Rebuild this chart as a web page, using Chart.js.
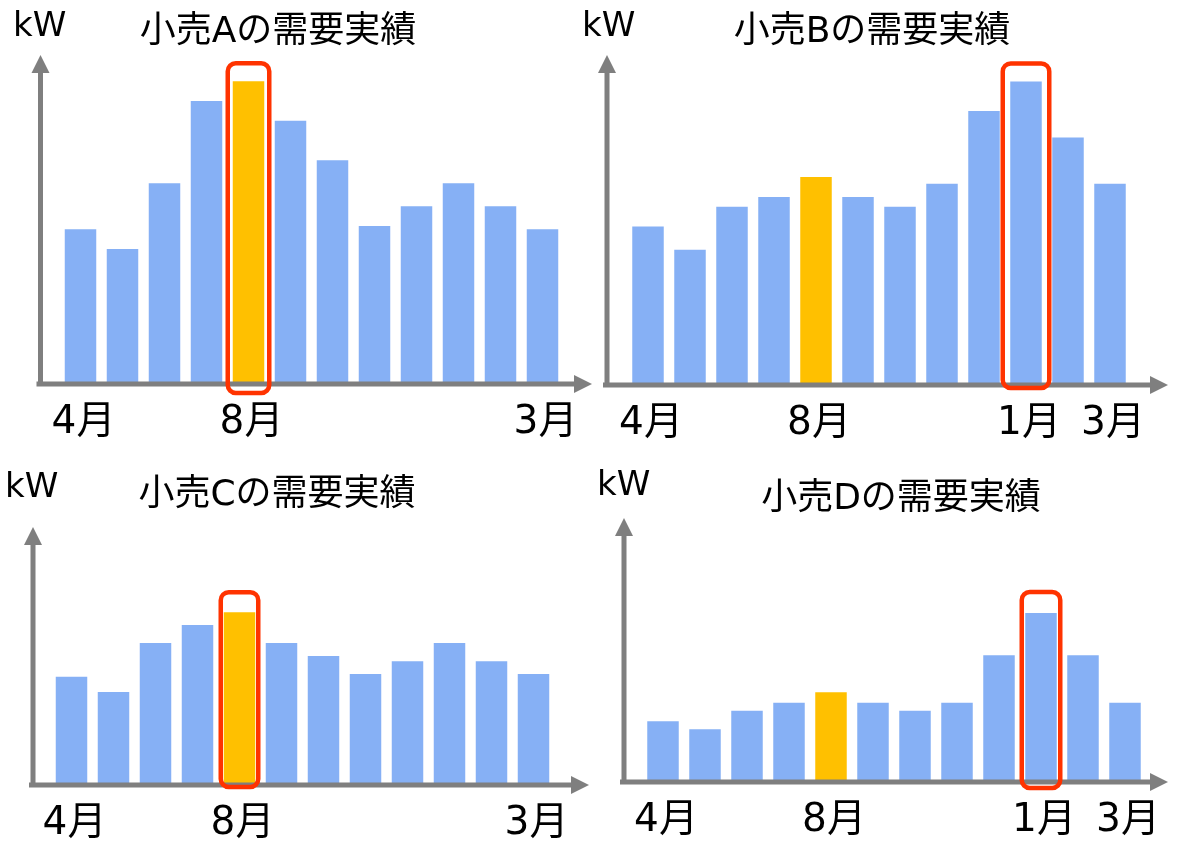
<!DOCTYPE html>
<html lang="ja">
<head>
<meta charset="utf-8">
<title>小売の需要実績</title>
<script src="https://cdn.jsdelivr.net/npm/chart.js@4"></script>
<style>
  body { margin: 0; background: #fff; }
  #wrap { position: relative; width: 1186px; height: 841px; }
  #wrap canvas { position: absolute; left: 0; top: 0; }
</style>
</head>
<body>
<div id="wrap">
  <canvas id="chartA" width="1186" height="841"></canvas>
  <canvas id="chartB" width="1186" height="841"></canvas>
  <canvas id="chartC" width="1186" height="841"></canvas>
  <canvas id="chartD" width="1186" height="841"></canvas>
</div>
<script>
// months of the fiscal year (Apr - Mar)
const months = ['4月', '5月', '6月', '7月', '8月', '9月', '10月', '11月', '12月', '1月', '2月', '3月'];
const ticksAC = ['4月', '8月', '3月'];
const ticksBD = ['4月', '8月', '1月', '3月'];

// demand, relative to the top of the kW arrow (=100)
const demandA = [47, 41, 61, 86, 92, 80, 68, 48, 54, 61, 54, 47];
const demandB = [48, 41, 54, 57, 63, 57, 54, 61, 83, 92, 75, 61];
const demandC = [42, 36, 55, 62, 67, 55, 50, 43, 48, 55, 48, 43];
const demandD = [23, 20, 27, 30, 34, 30, 27, 30, 48, 64, 48, 30];

const summerMonth = '8月';
const peakA = '8月';
const peakB = '1月';
const peakC = '8月';
const peakD = '1月';

const BLUE = '#86B0F5';
const YELLOW = '#FFC000';
const RED = '#FF3300';
const AXIS = '#7F7F7F';
const FONT = '"DejaVu Sans", "Noto Sans CJK JP", sans-serif';

Chart.defaults.font.family = FONT;

const panelDeco = {
  id: 'panelDeco',
  afterDatasetsDraw(chart, args, o) {
    const ctx = chart.ctx;
    const y = chart.scales.y;
    const base = y.getPixelForValue(0);
    const top = y.getPixelForValue(100);
    ctx.save();
    // axes with arrow heads
    ctx.strokeStyle = AXIS;
    ctx.fillStyle = AXIS;
    ctx.lineWidth = 5;
    ctx.beginPath();
    ctx.moveTo(o.axisX, base + 2.5);
    ctx.lineTo(o.axisX, top + 16);
    ctx.moveTo(o.axisX - 4, base);
    ctx.lineTo(o.tipX - 16, base);
    ctx.stroke();
    ctx.beginPath();
    ctx.moveTo(o.axisX, top);
    ctx.lineTo(o.axisX - 9, top + 18);
    ctx.lineTo(o.axisX + 9, top + 18);
    ctx.closePath();
    ctx.fill();
    ctx.beginPath();
    ctx.moveTo(o.tipX, base);
    ctx.lineTo(o.tipX - 18, base - 9);
    ctx.lineTo(o.tipX - 18, base + 9);
    ctx.closePath();
    ctx.fill();

    // red frame round the peak month
    const bar = chart.getDatasetMeta(0).data[months.indexOf(o.peak)];
    const half = bar.width / 2 + o.padX;
    const y0 = bar.y - o.padTop;
    ctx.strokeStyle = RED;
    ctx.lineWidth = 4.5;
    ctx.beginPath();
    ctx.roundRect(bar.x - half, y0, half * 2, base + o.padBottom - y0, 8);
    ctx.stroke();

    // kW and title
    ctx.fillStyle = '#000';
    ctx.font = '34px ' + FONT;
    ctx.textAlign = 'left';
    ctx.textBaseline = 'alphabetic';
    ctx.fillText('kW', o.kwX, o.kwY);
    ctx.font = '36px ' + FONT;
    ctx.textAlign = 'center';
    ctx.textBaseline = 'middle';
    ctx.fillText(o.title, o.titleX, o.titleY);
    ctx.restore();
  }
};

function makePanel(id, values, shownTicks, deco, area) {
  const ctx = document.getElementById(id).getContext('2d');
  const chart = new Chart(ctx, {
    type: 'bar',
    data: {
      labels: months,
      datasets: [{
        data: values,
        backgroundColor: months.map(m => m === summerMonth ? YELLOW : BLUE),
        barPercentage: 0.75,
        categoryPercentage: 1
      }]
    },
    options: {
      responsive: false,
      animation: false,
      events: [],
      layout: {
        padding: {
          left: area.l,
          right: 1186 - area.r,
          top: area.t,
          bottom: 841 - area.b - 60
        }
      },
      plugins: {
        legend: { display: false },
        tooltip: { enabled: false },
        panelDeco: deco
      },
      scales: {
        x: {
          grid: { display: false, drawTicks: false },
          border: { display: false },
          ticks: {
            autoSkip: false,
            maxRotation: 0,
            padding: 19,
            labelOffset: 3,
            color: '#000',
            font: { size: 39, lineHeight: 1 },
            callback: function (value) {
              const m = this.getLabelForValue(value);
              return shownTicks.includes(m) ? m : '';
            }
          }
        },
        y: { display: false, min: 0, max: 100 }
      }
    },
    plugins: [panelDeco]
  });
  // put the baseline where the panel wants it
  const shift = area.b - chart.chartArea.bottom;
  if (Math.abs(shift) > 0.5) {
    chart.options.layout.padding.bottom -= shift;
    chart.update();
  }
  return chart;
}

makePanel('chartA', demandA, ticksAC,
  { title: '小売Aの需要実績', peak: peakA, axisX: 40.5, tipX: 592, kwX: 13, kwY: 36, titleX: 278, titleY: 33, padX: 5, padTop: 18, padBottom: 9 },
  { l: 59.5, r: 563.5, t: 55, b: 384 });

makePanel('chartB', demandB, ticksBD,
  { title: '小売Bの需要実績', peak: peakB, axisX: 607, tipX: 1168, kwX: 582, kwY: 36, titleX: 872, titleY: 33, padX: 7.5, padTop: 18, padBottom: 3 },
  { l: 627, r: 1131, t: 55, b: 385 });

makePanel('chartC', demandC, ticksAC,
  { title: '小売Cの需要実績', peak: peakC, axisX: 33, tipX: 589, kwX: 5, kwY: 497, titleX: 277, titleY: 496, padX: 3, padTop: 20, padBottom: 2 },
  { l: 50.5, r: 554.5, t: 527, b: 785 });

makePanel('chartD', demandD, ticksBD,
  { title: '小売Dの需要実績', peak: peakD, axisX: 624, tipX: 1168, kwX: 597, kwY: 495, titleX: 901, titleY: 500, padX: 3.5, padTop: 21, padBottom: 6 },
  { l: 642, r: 1146, t: 518, b: 782 });
</script>
</body>
</html>
